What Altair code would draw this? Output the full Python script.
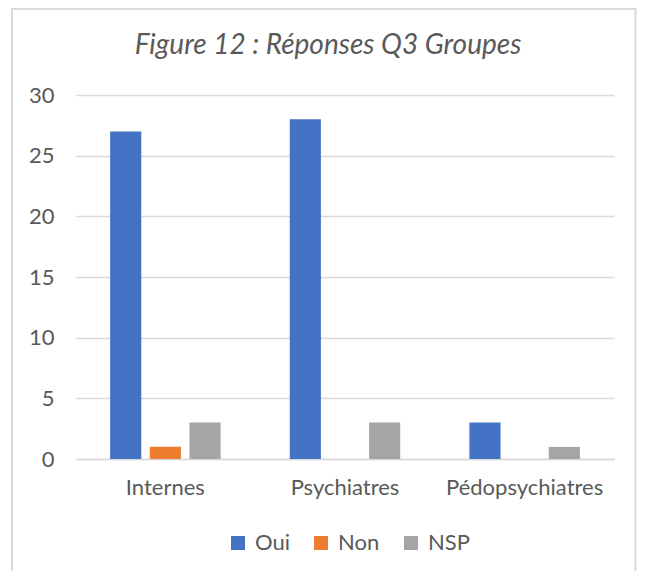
import altair as alt
import pandas as pd

categories = ["Internes", "Psychiatres", "Pédopsychiatres"]
series = ["Oui", "Non", "NSP"]
oui = [27, 28, 3]
non = [1, 0, 0]
nsp = [3, 3, 1]
colors = ["#4472C4", "#ED7D31", "#A5A5A5"]
title_text = "Figure 12 : Réponses Q3 Groupes"
y_ticks = [0, 5, 10, 15, 20, 25, 30]

rows = []
for i, c in enumerate(categories):
    for s, vals in zip(series, [oui, non, nsp]):
        rows.append({"Groupe": c, "Réponse": s, "Nombre": vals[i]})
df = pd.DataFrame(rows)

FONT = "Lato"
TXT = "#595959"
GRID = "#D9D9D9"

bars = alt.Chart(df).mark_bar().encode(
    x=alt.X(
        "Groupe:N",
        sort=categories,
        scale=alt.Scale(paddingInner=0.385, paddingOuter=0.19),
        axis=alt.Axis(
            title=None, labelAngle=0, labelFontSize=22, labelColor=TXT,
            labelFont=FONT, labelPadding=18, ticks=False,
            domainColor=GRID, domainWidth=1.5, grid=False,
        ),
    ),
    xOffset=alt.XOffset(
        "Réponse:N", sort=series,
        scale=alt.Scale(paddingInner=0.215, paddingOuter=0),
    ),
    y=alt.Y(
        "Nombre:Q",
        scale=alt.Scale(domain=[0, 30], nice=False),
        axis=alt.Axis(
            title=None, values=y_ticks, labelFontSize=22, labelColor=TXT,
            labelFont=FONT, labelPadding=22, ticks=False, domain=False,
            grid=True, gridColor=GRID, gridWidth=1.5,
        ),
    ),
    color=alt.Color(
        "Réponse:N",
        sort=series,
        scale=alt.Scale(domain=series, range=colors),
        legend=alt.Legend(
            title=None, orient="none", legendX=151, legendY=437,
            direction="horizontal", symbolType="square", symbolSize=196,
            symbolStrokeWidth=0, labelFontSize=22, labelFont=FONT,
            labelColor=TXT, columnPadding=20, labelOffset=6,
        ),
    ),
)

frame = alt.Chart(alt.Data(values=[{"a": 1}])).mark_rect(
    fillOpacity=0, stroke=GRID, strokeWidth=2
).encode(
    x=alt.value(-64), x2=alt.value(559.5), y=alt.value(-86), y2=alt.value(481)
)

title = alt.Chart(alt.Data(values=[{"t": title_text}])).mark_text(
    font=FONT, fontSize=28, fontStyle="italic", color=TXT,
    align="center", baseline="alphabetic",
).encode(
    text="t:N", x=alt.value(252), y=alt.value(-41)
)

chart = alt.layer(frame, bars, title).properties(
    width=538,
    height=364,
    padding={"left": 68, "top": 87, "right": 23, "bottom": 112},
    autosize=alt.AutoSizeParams(type="none"),
    background="white",
).configure_view(strokeWidth=0)

chart.save("out.html", embed_options={"renderer": "svg", "actions": False})
